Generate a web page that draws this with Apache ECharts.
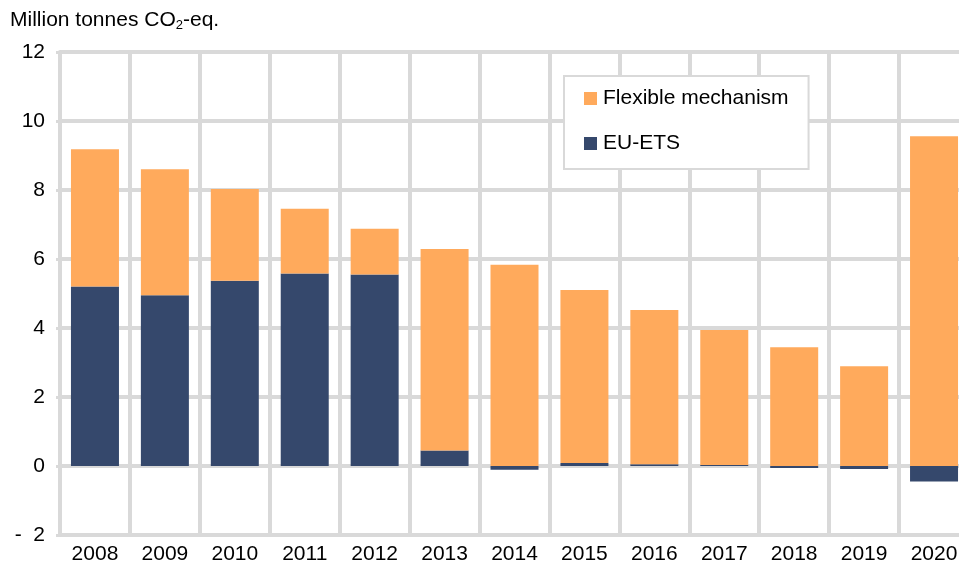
<!DOCTYPE html>
<html>
<head>
<meta charset="utf-8">
<script src="https://cdn.jsdelivr.net/npm/echarts@6/dist/echarts.min.js"></script>
<style>
  html, body { margin: 0; padding: 0; background: #fff; }
  #chart { width: 959px; height: 567px; }
</style>
</head>
<body>
<div id="chart"></div>
<script>
// Data
const years = ['2008', '2009', '2010', '2011', '2012', '2013', '2014',
  '2015', '2016', '2017', '2018', '2019', '2020'];
const euEts = [5.2, 4.95, 5.37, 5.58, 5.55, 0.45, -0.11, 0.09, 0.05, 0.03, -0.06, -0.09, -0.45];
const flexible = [3.98, 3.65, 2.66, 1.88, 1.33, 5.84, 5.83, 5.01, 4.47, 3.91, 3.44, 2.89, 9.56];
const yTicks = { min: -2, max: 12, interval: 2 };

const gridColor = '#d9d9d9';
const font = 'Liberation Sans, Arial, sans-serif';

const chart = echarts.init(document.getElementById('chart'));

const option = {
  animation: false,
  textStyle: { fontFamily: font, color: '#000' },
  title: {
    text: 'Million tonnes CO{sub|2}-eq.',
    left: 10,
    top: 9,
    padding: 0,
    textStyle: {
      fontSize: 21,
      fontWeight: 'normal',
      color: '#000',
      fontFamily: font,
      rich: {
        sub: { fontSize: 13, verticalAlign: 'bottom', padding: [10, 0, 0, 0], fontFamily: font }
      }
    }
  },
  legend: {
    orient: 'vertical',
    left: 564,
    top: 76,
    itemWidth: 13,
    itemHeight: 13,
    itemGap: 24,
    padding: [12, 20, 15, 20],
    backgroundColor: '#fff',
    borderColor: gridColor,
    borderWidth: 2,
    borderRadius: 0,
    icon: 'rect',
    data: ['Flexible mechanism', 'EU-ETS'],
    textStyle: { fontSize: 21, color: '#000', fontFamily: font, padding: [0, 0, 0, 1] }
  },
  grid: {
    left: 60,
    top: 52,
    width: 909,
    height: 483,
    outerBoundsMode: 'none'
  },
  xAxis: {
    type: 'category',
    data: years,
    boundaryGap: true,
    axisLine: { show: false },
    axisTick: { show: false },
    axisLabel: { fontSize: 21, color: '#000', margin: 9, fontFamily: font },
    splitLine: { show: true, lineStyle: { color: gridColor, width: 4 } }
  },
  yAxis: {
    type: 'value',
    min: yTicks.min,
    max: yTicks.max,
    interval: yTicks.interval,
    axisLine: { show: true, lineStyle: { color: gridColor, width: 4 } },
    axisTick: { show: true, length: 4, lineStyle: { color: gridColor, width: 3 } },
    axisLabel: {
      fontSize: 21,
      color: '#000',
      margin: 15,
      fontFamily: font,
      formatter: v => (v < 0 ? '-  ' + Math.abs(v) : String(v))
    },
    splitLine: { show: true, lineStyle: { color: gridColor, width: 4 } }
  },
  series: [
    {
      name: 'EU-ETS',
      type: 'bar',
      stack: 'total',
      barWidth: 48,
      data: euEts,
      itemStyle: { color: '#35486c' }
    },
    {
      name: 'Flexible mechanism',
      type: 'bar',
      stack: 'total',
      barWidth: 48,
      data: flexible,
      itemStyle: { color: '#ffaa5c' }
    }
  ]
};

chart.setOption(option);
</script>
</body>
</html>
